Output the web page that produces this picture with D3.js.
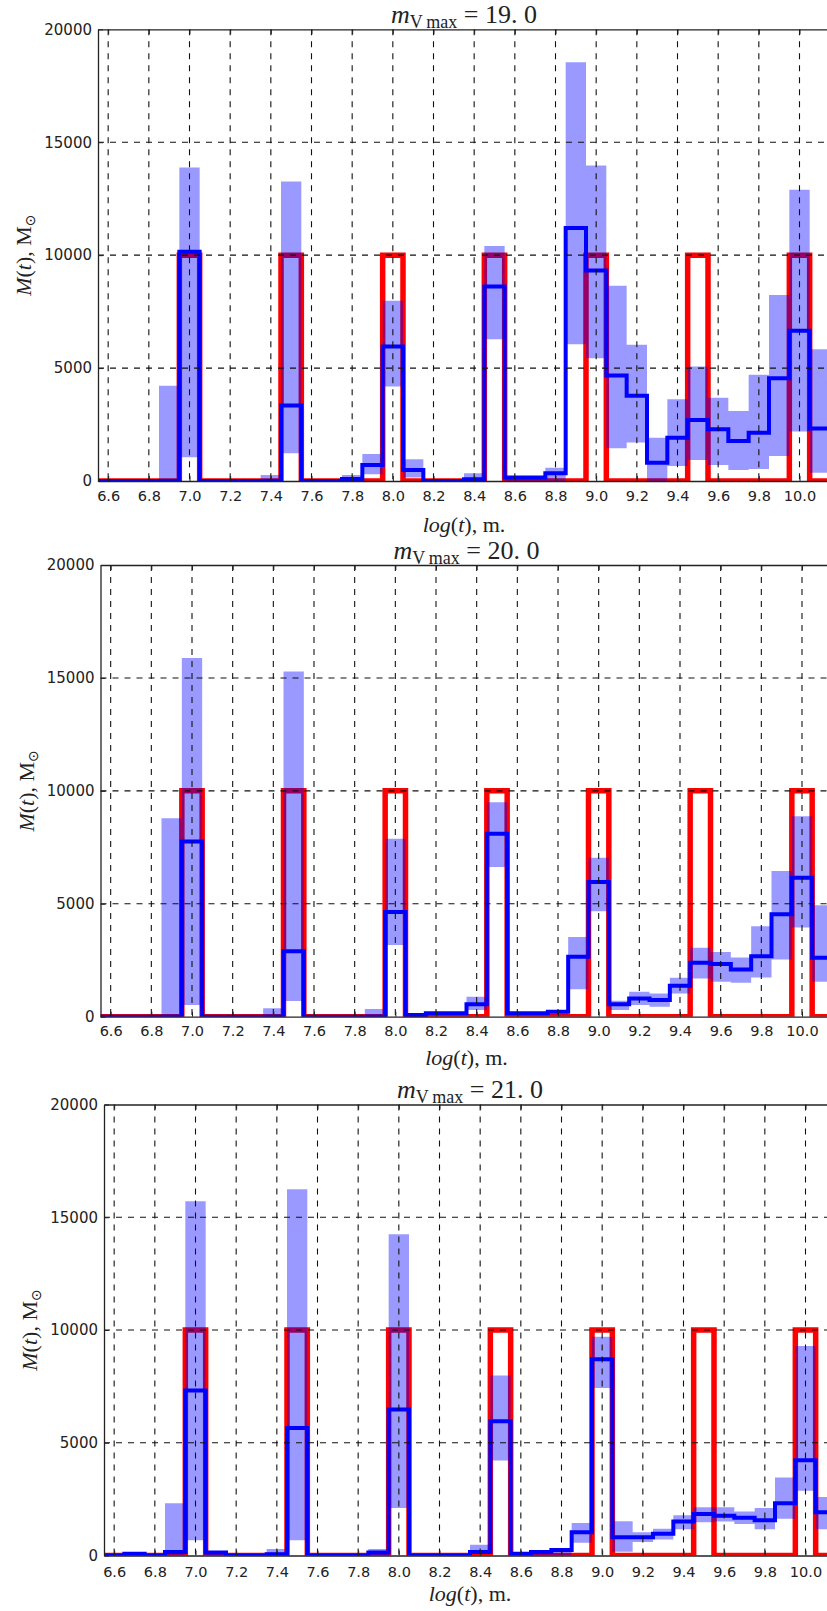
<!DOCTYPE html>
<html>
<head>
<meta charset="utf-8">
<script src="https://cdn.jsdelivr.net/npm/d3@7"></script>
<style>
  body { margin: 0; background: #fff; }
  svg { display: block; }
  .math { font-family: "Liberation Serif", "DejaVu Serif", serif; fill: #222; }
</style>
</head>
<body>
<svg id="grafico"></svg>
<script>
// centros dos bins de log(t), largura 0.1
const binCenters = [6.6, 6.7, 6.8, 6.9, 7.0, 7.1, 7.2, 7.3, 7.4, 7.5, 7.6, 7.7, 7.8, 7.9, 8.0, 8.1, 8.2, 8.3,
  8.4, 8.5, 8.6, 8.7, 8.8, 8.9, 9.0, 9.1, 9.2, 9.3, 9.4, 9.5, 9.6, 9.7, 9.8, 9.9, 10.0, 10.1];

// distribuicao verdadeira (vermelho)
const trueMass = [0, 0, 0, 0, 10000, 0, 0, 0, 0, 10000, 0, 0, 0, 0, 10000, 0, 0, 0,
  0, 10000, 0, 0, 0, 0, 10000, 0, 0, 0, 0, 10000, 0, 0, 0, 0, 10000, 0];

const xTicks = [6.6, 6.8, 7.0, 7.2, 7.4, 7.6, 7.8, 8.0, 8.2, 8.4, 8.6, 8.8, 9.0, 9.2, 9.4, 9.6, 9.8, 10.0];
const yTicks = [0, 5000, 10000, 15000, 20000];
const gridY = [5000, 10000, 15000];
const magLimits = ['19. 0', '20. 0', '21. 0'];

// m_Vmax = 19.0
const median19 = [0, 0, 0, 0, 10150, 0, 0, 0, 0, 3340, 0, 0, 90, 710, 5950, 490, 0, 0,
  80, 8610, 160, 160, 340, 11200, 9320, 4670, 3780, 810, 1920, 2700, 2290, 1770, 2140, 4550, 6650, 2330];
const upper19 = [0, 0, 0, 4220, 13880, 0, 0, 0, 270, 13260, 0, 0, 270, 1200, 7980, 960, 0, 0,
  340, 10410, 180, 180, 590, 18540, 13970, 8640, 6030, 1920, 3620, 5070, 3690, 3100, 4700, 8240, 12900, 5830];
const lower19 = [0, 0, 0, 0, 1050, 0, 0, 0, 0, 1230, 0, 0, 0, 300, 4180, 150, 0, 0,
  0, 6280, 0, 0, 0, 6060, 5440, 1450, 1710, 0, 660, 930, 710, 490, 530, 1110, 2190, 370];

// m_Vmax = 20.0
const median20 = [0, 0, 0, 0, 7760, 0, 0, 0, 0, 2900, 0, 0, 0, 0, 4640, 70, 150, 150,
  550, 8100, 150, 150, 220, 2650, 5960, 550, 810, 740, 1370, 2390, 2330, 2090, 2680, 4540, 6150, 2610];
const upper20 = [0, 0, 0, 8790, 15880, 0, 0, 0, 370, 15290, 0, 0, 0, 340, 7880, 150, 200, 200,
  880, 9500, 200, 200, 300, 3530, 7040, 710, 1100, 1030, 1720, 3050, 2870, 2620, 4000, 6450, 8880, 4930];
const lower20 = [0, 0, 0, 0, 520, 0, 0, 0, 0, 690, 0, 0, 0, 0, 3170, 0, 100, 100,
  300, 6630, 100, 100, 100, 1210, 4670, 300, 520, 440, 1030, 1690, 1550, 1500, 1740, 2530, 3950, 1550];

// m_Vmax = 21.0
const median21 = [0, 80, 0, 160, 7320, 130, 0, 0, 50, 5650, 0, 0, 0, 130, 6480, 0, 0, 0,
  160, 5950, 80, 160, 240, 1030, 8700, 810, 810, 970, 1510, 1840, 1760, 1670, 1560, 2320, 4220, 1920];
const upper21 = [0, 100, 0, 2320, 15710, 150, 0, 0, 290, 16240, 0, 0, 0, 290, 14250, 0, 0, 0,
  480, 7980, 100, 180, 260, 1440, 9700, 1520, 1030, 1190, 1790, 2140, 2140, 1950, 2110, 3460, 9290, 2590];
const lower21 = [0, 0, 0, 0, 680, 0, 0, 0, 0, 680, 0, 0, 0, 0, 2110, 0, 0, 0,
  130, 4210, 0, 0, 0, 560, 7430, 170, 600, 710, 1160, 1480, 1510, 1400, 1160, 1630, 2870, 1160];

const paineis = [
  { mag: magLimits[0], mediana: median19, superior: upper19, inferior: lower19,
    esquerda: 98, topo: 29.3, base: 481, padRotulo: 9.4, gapTitulo: 51 },
  { mag: magLimits[1], mediana: median20, superior: upper20, inferior: lower20,
    esquerda: 100.5, topo: 565, base: 1016.7, padRotulo: 8.7, gapTitulo: 48 },
  { mag: magLimits[2], mediana: median21, superior: upper21, inferior: lower21,
    esquerda: 104, topo: 1104.5, base: 1555.5, padRotulo: 11.5, gapTitulo: 45.5 }
];

const svg = d3.select('#grafico').attr('width', 827).attr('height', 1611);

function criaPainel(p, indice) {
  const largura = 732;
  const x = d3.scaleLinear().domain([6.55, 10.15]).range([p.esquerda, p.esquerda + largura]);
  const y = d3.scaleLinear().domain([0, 20000]).range([p.base, p.topo]);
  const g = svg.append('g');

  const clipId = 'clip' + indice;
  g.append('clipPath').attr('id', clipId).append('rect')
    .attr('x', p.esquerda).attr('y', p.topo)
    .attr('width', largura).attr('height', p.base - p.topo);
  const plotagem = g.append('g').attr('clip-path', `url(#${clipId})`);

  const degraus = valores => valores.flatMap((v, i) => [[binCenters[i] - 0.05, v], [binCenters[i] + 0.05, v]]);
  const linha = d3.line().x(d => x(d[0])).y(d => y(d[1]));

  plotagem.append('path')
    .attr('d', linha(degraus(trueMass)))
    .attr('fill', 'none').attr('stroke', '#ff0000').attr('stroke-width', 5.5)
    .attr('stroke-linejoin', 'miter');

  const pontosFaixa = p.inferior.flatMap((lo, i) => [
    { t: binCenters[i] - 0.05, lo: lo, hi: p.superior[i] },
    { t: binCenters[i] + 0.05, lo: lo, hi: p.superior[i] }
  ]);
  const faixa = d3.area().x(d => x(d.t)).y0(d => y(d.lo)).y1(d => y(d.hi));
  plotagem.append('path')
    .attr('d', faixa(pontosFaixa))
    .attr('fill', '#0000ff').attr('fill-opacity', 0.4);

  plotagem.append('path')
    .attr('d', linha(degraus(p.mediana)))
    .attr('fill', 'none').attr('stroke', '#0000ff').attr('stroke-width', 4)
    .attr('stroke-linejoin', 'miter');

  // grade tracejada
  plotagem.selectAll('.gradeX')
    .data(xTicks)
    .enter()
    .append('line')
    .attr('x1', d => x(d)).attr('x2', d => x(d))
    .attr('y1', p.topo).attr('y2', p.base)
    .attr('stroke', '#111').attr('stroke-width', 1.1).attr('stroke-dasharray', '6,6');

  plotagem.selectAll('.gradeY')
    .data(gridY)
    .enter()
    .append('line')
    .attr('x1', p.esquerda).attr('x2', p.esquerda + largura)
    .attr('y1', d => y(d)).attr('y2', d => y(d))
    .attr('stroke', '#111').attr('stroke-width', 1.1).attr('stroke-dasharray', '6,6');

  // eixos
  const eixoX = g.append('g').attr('transform', `translate(0, ${p.base})`)
    .call(d3.axisBottom(x).tickValues(xTicks).tickFormat(d3.format('.1f'))
      .tickSizeInner(-5).tickSizeOuter(0).tickPadding(p.padRotulo));
  const eixoTopo = g.append('g').attr('transform', `translate(0, ${p.topo})`)
    .call(d3.axisTop(x).tickValues(xTicks).tickFormat('')
      .tickSizeInner(-5).tickSizeOuter(0));
  const eixoY = g.append('g').attr('transform', `translate(${p.esquerda}, 0)`)
    .call(d3.axisLeft(y).tickValues(yTicks).tickFormat(d3.format('d'))
      .tickSizeInner(-5).tickSizeOuter(0).tickPadding(6));

  [eixoX, eixoTopo, eixoY].forEach(e => {
    e.select('.domain').attr('stroke', '#222').attr('stroke-width', 1.3);
    e.selectAll('.tick line').attr('stroke', '#222').attr('stroke-width', 1);
    e.selectAll('.tick text').attr('fill', '#222').attr('font-family', '"DejaVu Sans", sans-serif');
  });
  eixoX.selectAll('.tick text').attr('font-size', 14.5);
  eixoY.selectAll('.tick text').attr('font-size', 15);

  const centro = p.esquerda + largura / 2;

  // titulo
  const titulo = g.append('text').classed('math', true)
    .attr('x', centro).attr('y', p.topo - 6.5)
    .attr('text-anchor', 'middle').attr('font-size', 26);
  titulo.append('tspan').attr('font-style', 'italic').text('m');
  titulo.append('tspan').attr('font-size', 18).attr('dy', 5).text('V\u2009max');
  titulo.append('tspan').attr('dy', -5).text(' = ' + p.mag);

  // rotulo x
  const rotuloX = g.append('text').classed('math', true)
    .attr('x', centro).attr('y', p.base + p.gapTitulo)
    .attr('text-anchor', 'middle').attr('font-size', 22);
  rotuloX.append('tspan').attr('font-style', 'italic').text('log');
  rotuloX.append('tspan').text('(');
  rotuloX.append('tspan').attr('font-style', 'italic').text('t');
  rotuloX.append('tspan').text('), m.');

  // rotulo y
  const rotuloY = g.append('text').classed('math', true)
    .attr('transform', `translate(${p.esquerda - 67}, ${(p.topo + p.base) / 2}) rotate(-90)`)
    .attr('text-anchor', 'middle').attr('font-size', 22);
  rotuloY.append('tspan').attr('font-style', 'italic').text('M');
  rotuloY.append('tspan').text('(');
  rotuloY.append('tspan').attr('font-style', 'italic').text('t');
  rotuloY.append('tspan').text('), M');
  rotuloY.append('tspan').attr('font-size', 14).attr('dy', 4)
    .attr('font-family', '"DejaVu Sans", sans-serif').text('\u2299');
}

paineis.forEach(criaPainel);
</script>
</body>
</html>
